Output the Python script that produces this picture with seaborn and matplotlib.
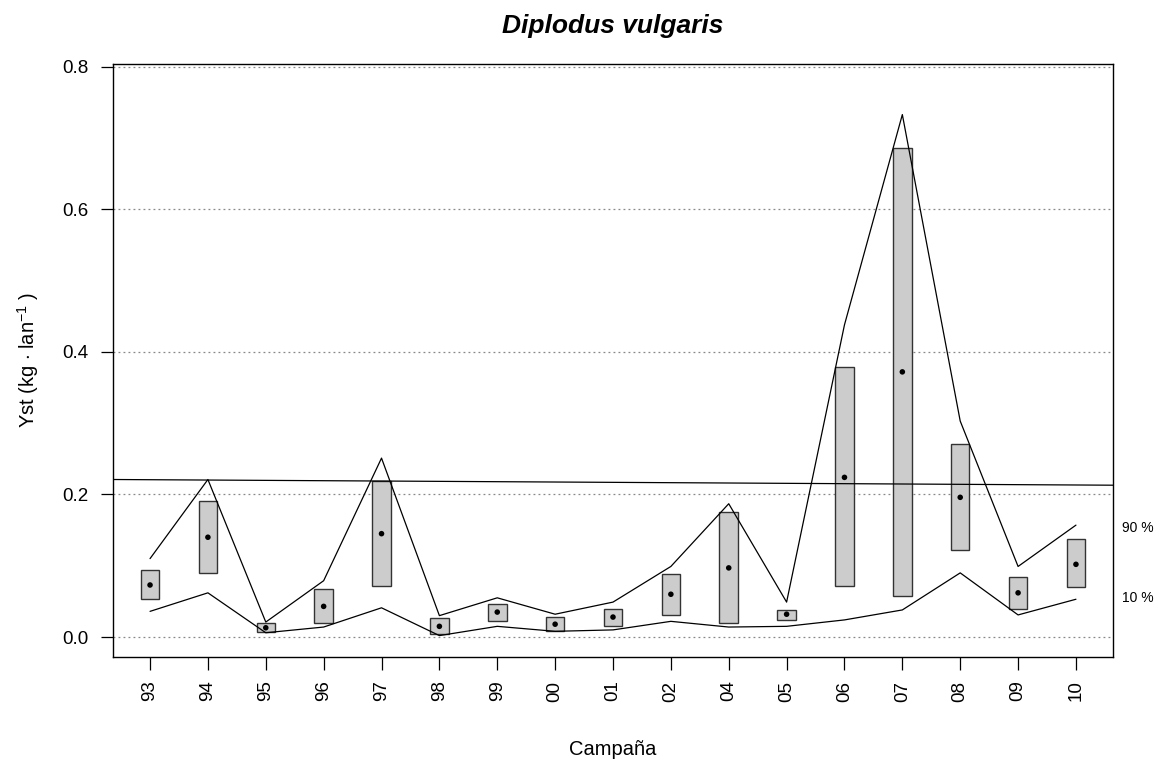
import numpy as np
import pandas as pd
import matplotlib
matplotlib.use("Agg")
import matplotlib.pyplot as plt
import seaborn as sns

# campañas y valores estimados
campanas = ['93', '94', '95', '96', '97', '98', '99', '00', '01',
            '02', '04', '05', '06', '07', '08', '09', '10']
yst = [0.073, 0.140, 0.013, 0.043, 0.145, 0.015, 0.035, 0.018, 0.028,
       0.060, 0.097, 0.032, 0.224, 0.372, 0.196, 0.062, 0.102]
caja_sup = [0.094, 0.191, 0.019, 0.067, 0.219, 0.027, 0.047, 0.028, 0.039,
            0.088, 0.176, 0.038, 0.379, 0.686, 0.271, 0.084, 0.138]
caja_inf = [0.054, 0.090, 0.007, 0.019, 0.071, 0.004, 0.022, 0.009, 0.015,
            0.031, 0.019, 0.024, 0.072, 0.058, 0.122, 0.040, 0.070]
p90 = [0.110, 0.221, 0.021, 0.079, 0.251, 0.030, 0.055, 0.032, 0.049,
       0.099, 0.187, 0.049, 0.438, 0.733, 0.303, 0.099, 0.157]
p10 = [0.036, 0.062, 0.006, 0.014, 0.041, 0.002, 0.015, 0.008, 0.010,
       0.022, 0.014, 0.015, 0.024, 0.038, 0.090, 0.031, 0.053]
# recta de referencia (valor en la primera y última campaña)
recta = [0.2207, 0.2133]
# etiquetas de percentil (a la altura del final de cada línea)
etiquetas_pct = ['90 %', '10 %']
y_etiquetas = [0.153, 0.055]

df = pd.DataFrame({
    'pos': np.arange(1, len(campanas) + 1),
    'campana': campanas,
    'yst': yst,
    'sup': caja_sup,
    'inf': caja_inf,
    'p90': p90,
    'p10': p10,
})

sns.set_style("ticks")
plt.rcParams['font.family'] = ['Liberation Sans', 'DejaVu Sans']
plt.rcParams['text.color'] = 'black'
plt.rcParams['axes.labelcolor'] = 'black'
plt.rcParams['xtick.color'] = 'black'
plt.rcParams['ytick.color'] = 'black'
plt.rcParams['mathtext.fontset'] = 'custom'
plt.rcParams['mathtext.rm'] = 'Liberation Sans'

fig = plt.figure(figsize=(11.59, 7.65), dpi=100)
ax = fig.add_axes([0.0975, 0.1412, 0.8628, 0.7752])

# rejilla punteada
for yv in [0.0, 0.2, 0.4, 0.6, 0.8]:
    ax.axhline(yv, color='#888888', lw=0.9, ls=(0, (1.5, 2.5)), zorder=0)

# cajas
ax.bar(df['pos'], df['sup'] - df['inf'], bottom=df['inf'], width=0.32,
       color='#cccccc', edgecolor='#333333', linewidth=1.0, zorder=2)

# percentiles 90 y 10
sns.lineplot(data=df, x='pos', y='p90', color='black', lw=0.9, ax=ax, zorder=3)
sns.lineplot(data=df, x='pos', y='p10', color='black', lw=0.9, ax=ax, zorder=3)

# recta de referencia
ax.axline((df['pos'].iloc[0], recta[0]), (df['pos'].iloc[-1], recta[1]),
          color='black', lw=0.9, zorder=3)

# valores medios
sns.scatterplot(data=df, x='pos', y='yst', color='black', s=16,
                edgecolor='none', ax=ax, zorder=4)

ax.set_xlim(0.36, 17.64)
ax.set_ylim(-0.028, 0.804)
ax.set_xticks(df['pos'])
ax.set_xticklabels(df['campana'], rotation=90, fontsize=13.5)
ax.set_yticks([0.0, 0.2, 0.4, 0.6, 0.8])
ax.set_yticklabels(['0.0', '0.2', '0.4', '0.6', '0.8'], fontsize=13.5)
ax.tick_params(axis='both', direction='out', length=9, width=0.9,
               color='black')
ax.tick_params(axis='x', pad=8)
ax.tick_params(axis='y', pad=9)

for s in ax.spines.values():
    s.set_visible(True)
    s.set_color('black')
    s.set_linewidth(1.0)

ax.set_xlabel('Campaña', fontsize=14.5, labelpad=28)
ax.set_ylabel(r'Yst (kg $\cdot$ lan$^{-1}$ )', fontsize=14.5, labelpad=15)
ax.set_title('Diplodus vulgaris', fontsize=19, fontweight='bold',
             fontstyle='italic', pad=22)

for txt, yv in zip(etiquetas_pct, y_etiquetas):
    ax.text(1.009, yv, txt, transform=ax.get_yaxis_transform(),
            fontsize=10, va='center', ha='left')

fig.savefig('out.png', dpi=100)
